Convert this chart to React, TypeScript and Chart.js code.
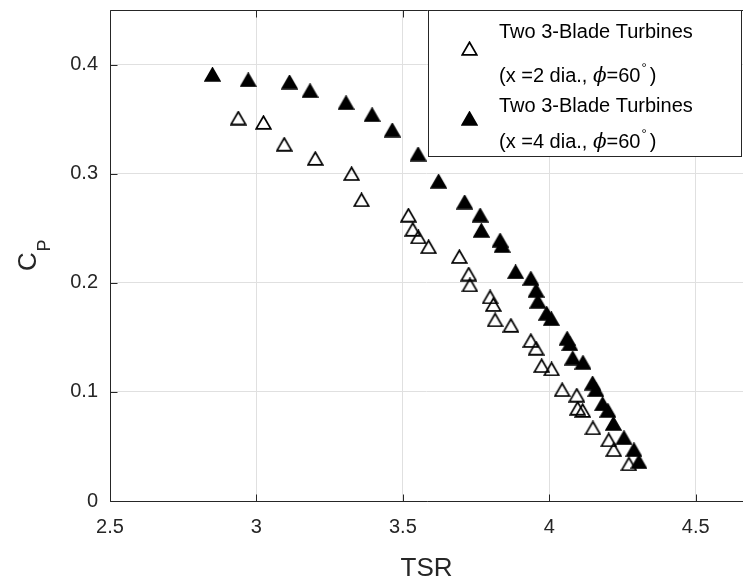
import React, { useEffect, useRef } from "react";
import { Chart, registerables } from "chart.js";

Chart.register(...registerables);

// ---- data ----
const tsrTwoDia = [2.938, 3.024, 3.095, 3.201, 3.325, 3.359, 3.519, 3.534, 3.553, 3.588, 3.693, 3.725, 3.729, 3.798, 3.809, 3.815, 3.869, 3.937, 3.955, 3.974, 4.008, 4.044, 4.094, 4.097, 4.114, 4.149, 4.203, 4.22, 4.272];
const cpTwoDia = [0.351, 0.347, 0.327, 0.314, 0.3, 0.276, 0.262, 0.249, 0.242, 0.233, 0.224, 0.208, 0.198, 0.187, 0.18, 0.166, 0.161, 0.147, 0.14, 0.124, 0.121, 0.102, 0.097, 0.085, 0.083, 0.067, 0.056, 0.047, 0.034];

const tsrFourDia = [2.85, 2.972, 3.113, 3.183, 3.306, 3.395, 3.464, 3.552, 3.622, 3.711, 3.764, 3.768, 3.832, 3.839, 3.885, 3.937, 3.955, 3.961, 3.991, 4.007, 4.061, 4.07, 4.08, 4.115, 4.148, 4.159, 4.182, 4.2, 4.219, 4.255, 4.289, 4.306];
const cpFourDia = [0.391, 0.386, 0.384, 0.376, 0.365, 0.354, 0.34, 0.318, 0.293, 0.274, 0.262, 0.248, 0.239, 0.234, 0.21, 0.204, 0.193, 0.183, 0.172, 0.167, 0.149, 0.144, 0.131, 0.127, 0.108, 0.102, 0.089, 0.083, 0.071, 0.058, 0.047, 0.036];

const xTicks = [2.5, 3, 3.5, 4, 4.5];
const yTicks = [0, 0.1, 0.2, 0.3, 0.4];
const xTickLabels = ["2.5", "3", "3.5", "4", "4.5"];
const yTickLabels = ["0", "0.1", "0.2", "0.3", "0.4"];

const seriesTitle = "Two 3-Blade Turbines";
const spacings = ["2", "4"];
const angleDeg = "60";

const xTitle = "TSR";
const yTitleMain = "C";
const yTitleSub = "P";

const AX = "#262626";
const FONT = "'Liberation Sans', Arial, sans-serif";

function makeTriangle(filled: boolean): HTMLCanvasElement {
  const c = document.createElement("canvas");
  c.width = 17;
  c.height = 15;
  const g = c.getContext("2d")!;
  g.beginPath();
  g.moveTo(8.5, 1.2);
  g.lineTo(15.8, 13.8);
  g.lineTo(1.2, 13.8);
  g.closePath();
  g.lineJoin = "miter";
  g.lineWidth = 1.7;
  g.strokeStyle = "#000";
  if (filled) {
    g.fillStyle = "#000";
    g.fill();
  }
  g.stroke();
  return c;
}

const zeroPad = (s: any) => {
  s.paddingLeft = 0;
  s.paddingRight = 0;
  s.paddingTop = 0;
  s.paddingBottom = 0;
};

export default function App() {
  const ref = useRef<HTMLCanvasElement | null>(null);

  useEffect(() => {
    const canvas = ref.current;
    if (!canvas) return;
    const openTri = makeTriangle(false);
    const fullTri = makeTriangle(true);

    const decor = {
      id: "decor",
      afterDraw(chart: any) {
        const ctx: CanvasRenderingContext2D = chart.ctx;
        const { left, right, top, bottom } = chart.chartArea;
        const xs = chart.scales.x;
        const ys = chart.scales.y;
        ctx.save();
        // axes box (left, bottom, top)
        ctx.strokeStyle = AX;
        ctx.lineWidth = 1;
        ctx.beginPath();
        const L = Math.round(left) + 0.5;
        const B = Math.round(bottom) + 0.5;
        const T = Math.round(top) + 0.5;
        ctx.moveTo(right + 2, T);
        ctx.lineTo(L, T);
        ctx.lineTo(L, B);
        ctx.lineTo(right + 2, B);
        ctx.stroke();
        // inward ticks
        const tl = 7;
        ctx.beginPath();
        xTicks.forEach((v) => {
          const px = Math.round(xs.getPixelForValue(v)) + 0.5;
          ctx.moveTo(px, B);
          ctx.lineTo(px, B - tl);
          ctx.moveTo(px, T);
          ctx.lineTo(px, T + tl);
        });
        yTicks.forEach((v) => {
          const py = Math.round(ys.getPixelForValue(v)) + 0.5;
          ctx.moveTo(L, py);
          ctx.lineTo(L + tl, py);
        });
        ctx.stroke();

        // x title
        ctx.fillStyle = AX;
        ctx.font = `26px ${FONT}`;
        ctx.textAlign = "center";
        ctx.textBaseline = "alphabetic";
        ctx.fillText(xTitle, (left + right) / 2, 576);

        // y title C_P rotated, centered on the axis
        ctx.save();
        ctx.font = `26px ${FONT}`;
        const cw = ctx.measureText(yTitleMain).width;
        ctx.font = `18px ${FONT}`;
        const pw = ctx.measureText(yTitleSub).width;
        const total = cw + pw;
        const cy = (top + bottom) / 2 + total / 2;
        ctx.translate(36, cy);
        ctx.rotate(-Math.PI / 2);
        ctx.textAlign = "left";
        ctx.font = `26px ${FONT}`;
        ctx.fillText(yTitleMain, 0, 0);
        ctx.font = `18px ${FONT}`;
        ctx.fillText(yTitleSub, cw + 0.5, 14);
        ctx.restore();

        // legend
        const bx = 428.5, by = 10.5, bw = 313, bh = 146;
        ctx.fillStyle = "#fff";
        ctx.fillRect(bx, by, bw, bh);
        ctx.strokeStyle = AX;
        ctx.strokeRect(bx, by, bw, bh);
        const entries = [
          { img: openTri, my: 48, l1: 38, l2: 82, sp: spacings[0] },
          { img: fullTri, my: 118, l1: 112, l2: 148, sp: spacings[1] },
        ];
        const tx = 499;
        entries.forEach((e) => {
          ctx.drawImage(e.img, 469 - 8, e.my - 7);
          ctx.fillStyle = "#000";
          ctx.textAlign = "left";
          ctx.textBaseline = "alphabetic";
          ctx.font = `20px ${FONT}`;
          ctx.fillText(seriesTitle, tx, e.l1);
          let x = tx;
          const part1 = `(x =${e.sp} dia., `;
          ctx.fillText(part1, x, e.l2);
          x += ctx.measureText(part1).width;
          ctx.font = `italic 20px 'DejaVu Serif', 'Liberation Serif', serif`;
          ctx.fillText("\u03D5", x, e.l2);
          x += ctx.measureText("\u03D5").width;
          ctx.font = `20px ${FONT}`;
          const part2 = `=${angleDeg}`;
          ctx.fillText(part2, x, e.l2);
          x += ctx.measureText(part2).width;
          ctx.font = `13px ${FONT}`;
          ctx.fillText("\u00B0", x + 1, e.l2 - 10);
          x += ctx.measureText("\u00B0").width + 4;
          ctx.font = `20px ${FONT}`;
          ctx.fillText(")", x, e.l2);
        });
        ctx.restore();
      },
    };

    const chart = new Chart(canvas, {
      type: "scatter",
      data: {
        datasets: [
          {
            label: `${seriesTitle} (x =${spacings[0]} dia., \u03D5=${angleDeg}\u00B0)`,
            data: tsrTwoDia.map((x, i) => ({ x, y: cpTwoDia[i] })),
            pointStyle: openTri,
            pointRadius: 8,
            borderColor: "#000",
            backgroundColor: "rgba(0,0,0,0)",
          },
          {
            label: `${seriesTitle} (x =${spacings[1]} dia., \u03D5=${angleDeg}\u00B0)`,
            data: tsrFourDia.map((x, i) => ({ x, y: cpFourDia[i] })),
            pointStyle: fullTri,
            pointRadius: 8,
            borderColor: "#000",
            backgroundColor: "#000",
          },
        ],
      },
      options: {
        responsive: false,
        animation: false,
        devicePixelRatio: 1,
        layout: { autoPadding: false, padding: { top: 10, left: 0, right: 0, bottom: 0 } },
        plugins: { legend: { display: false }, tooltip: { enabled: false } },
        events: [],
        scales: {
          x: {
            type: "linear",
            min: 2.5,
            max: 4.6615,
            afterFit: (s: any) => {
              s.height = 83;
              zeroPad(s);
            },
            afterBuildTicks: (s: any) => {
              s.ticks = xTicks.map((v) => ({ value: v }));
            },
            grid: { color: "#e0e0e0", lineWidth: 1, drawTicks: false },
            border: { display: false },
            ticks: {
              autoSkip: false,
              maxRotation: 0,
              padding: 14,
              color: AX,
              font: { family: FONT, size: 20 },
              callback: (v: any) => xTickLabels[xTicks.indexOf(Number(v))] ?? "",
            },
          },
          y: {
            type: "linear",
            min: 0,
            max: 0.45,
            afterFit: (s: any) => {
              s.width = 110;
              zeroPad(s);
            },
            afterBuildTicks: (s: any) => {
              s.ticks = yTicks.map((v) => ({ value: v }));
            },
            grid: { color: "#e0e0e0", lineWidth: 1, drawTicks: false },
            border: { display: false },
            ticks: {
              autoSkip: false,
              padding: 12,
              color: AX,
              font: { family: FONT, size: 20 },
              callback: (v: any) => {
                const i = yTicks.findIndex((t) => Math.abs(t - Number(v)) < 1e-9);
                return i >= 0 ? yTickLabels[i] : "";
              },
            },
          },
        },
      },
      plugins: [decor],
    } as any);

    return () => chart.destroy();
  }, []);

  return (
    <div style={{ position: "fixed", left: 0, top: 0, width: 743, height: 584, background: "#fff" }}>
      <canvas ref={ref} width={743} height={584} style={{ display: "block" }} />
    </div>
  );
}
